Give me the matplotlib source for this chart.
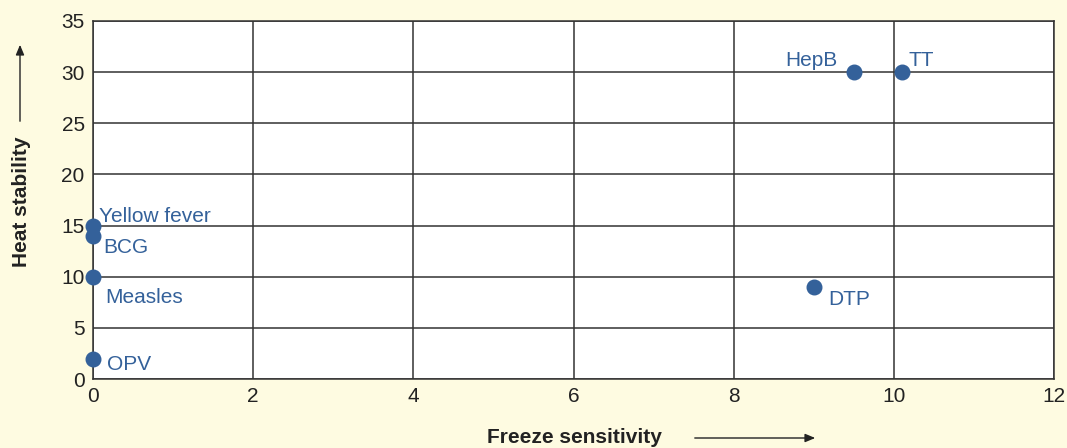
import matplotlib
matplotlib.use("Agg")
import matplotlib.pyplot as plt

vaccines = ["Yellow fever", "BCG", "Measles", "OPV", "HepB", "TT", "DTP"]
freeze = [0, 0, 0, 0, 9.5, 10.1, 9.0]
heat = [15, 14, 10, 2, 30, 30, 9]
label_offsets = {"Yellow fever": (6, 9, "left"), "BCG": (10, -12, "left"),
                 "Measles": (12, -21, "left"), "OPV": (14, -6, "left"),
                 "HepB": (-16, 12, "right"), "TT": (7, 12, "left"),
                 "DTP": (14, -13, "left")}
xticks = [0, 2, 4, 6, 8, 10, 12]
yticks = [0, 5, 10, 15, 20, 25, 30, 35]

plt.rcParams['font.family'] = ['Liberation Sans', 'DejaVu Sans']
bg = "#FEFBE1"
blue = "#34619A"
fig = plt.figure(figsize=(10.67, 4.48), dpi=100, facecolor=bg)
ax = fig.add_axes([93/1067, 1-379/448, (1054-93)/1067, (379-21)/448])
ax.set_facecolor("white")
ax.set_xlim(0, 12)
ax.set_ylim(0, 35)
ax.set_xticks(xticks)
ax.set_yticks(yticks)
ax.grid(True, color="#333333", linewidth=1.1)
ax.set_axisbelow(True)
for s in ax.spines.values():
    s.set_color("#333333")
    s.set_linewidth(1.1)
ax.tick_params(length=0, labelsize=15, colors="#222222", pad=6)
ax.scatter(freeze, heat, s=110, color=blue, zorder=3, clip_on=False)
for v, x, y in zip(vaccines, freeze, heat):
    dx, dy, ha = label_offsets[v]
    ax.annotate(v, (x, y), xytext=(dx, dy), textcoords="offset pixels",
                ha=ha, va="center", color=blue, fontsize=15, annotation_clip=False)

fig.text(574/1067, 1-437/448, "Freeze sensitivity", ha="center", va="center",
         fontsize=15, fontweight="bold", color="#222222")
fig.text(22/1067, 1-202/448, "Heat stability", ha="center", va="center",
         rotation=90, fontsize=15, fontweight="bold", color="#222222")
fig.patches.append(matplotlib.patches.FancyArrowPatch(
    (692/1067, 1-438/448), (818/1067, 1-438/448), transform=fig.transFigure,
    arrowstyle="-|>,head_length=6,head_width=2.5", color="#222222", lw=1))
fig.patches.append(matplotlib.patches.FancyArrowPatch(
    (20/1067, 1-124/448), (20/1067, 1-42/448), transform=fig.transFigure,
    arrowstyle="-|>,head_length=6,head_width=2.5", color="#222222", lw=1))
fig.savefig("out.png", dpi=100, facecolor=bg)
